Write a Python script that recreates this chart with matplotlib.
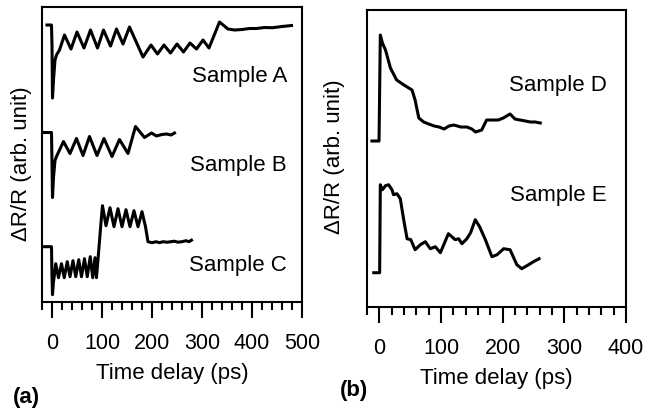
import matplotlib
matplotlib.use("Agg")
import matplotlib.pyplot as plt
from matplotlib.ticker import MultipleLocator

plt.rcParams['font.family'] = ['Liberation Sans', 'DejaVu Sans']

# panel (a): time (ps) and signal (arb. unit, relative to pre-zero level)
t_a = [-10, -1, 0, 1, 3, 6, 9, 15, 25, 38, 50, 64, 77, 91, 103, 117, 129, 142, 155,
       182, 198, 211, 224, 237, 250, 263, 276, 289, 302, 314, 335, 352, 365, 380,
       395, 409, 425, 441, 460, 479]
s_a = [0, 0, -20, -73, -55, -35, -30, -25, -10, -24, -7, -23, -5, -23, -5, -21, -4, -19,
       -2, -32, -20, -29, -20, -28, -19, -27, -18, -24, -15, -23, 3, -4, -5, -4.5,
       -3.5, -3.5, -2.5, -2.7, -1.5, -0.5]

t_b = [-20, -1, 0, 1, 3, 6, 9, 23, 36, 49, 62, 75, 90, 104, 120, 135, 152, 167,
       185, 199, 209, 220, 229, 238, 245]
s_b = [0, 0, -30, -65, -45, -28, -24, -9, -21, -6, -23, -4, -23, -6, -24, -7, -21, 6,
       -5, -0.5, -3.5, -2, -1.5, -2.5, -0.5]

t_c = [-20, -1, 0, 1, 3, 5, 7.5, 13, 19, 24.5, 30.5, 36, 42, 47.5, 53.5, 59, 65,
       70.5, 76.5, 81.5, 86, 89, 99, 101, 108, 116, 124, 132, 140, 148, 156, 164,
       172, 180, 187, 192, 200, 208, 215, 222, 230, 238, 245, 252, 260, 268, 274, 279]
s_c = [0, 0, -30, -48, -35, -28, -17, -31, -17, -31, -15, -30, -14, -30, -13, -30,
       -12, -30, -10, -31, -11, -31, 30, 41, 21, 39, 20, 38, 20, 37, 20, 36, 20, 35,
       20, 5, 4, 5, 4, 5, 4.5, 5, 5.5, 4.5, 5, 6, 5, 6.5]

# panel (b)
t_d = [-12, -0.5, 1.6, 5, 10, 18, 28, 40, 53, 58, 64, 72, 80, 89, 97, 105, 113,
       121, 132, 142, 150, 156, 166, 174, 185, 193, 201, 212, 220, 228, 237, 245,
       253, 261]
s_d = [0, 0, 106, 98, 91, 73, 61, 56, 51, 41, 23, 19, 17, 15, 14, 12, 15, 16, 14,
       14, 12, 9, 11, 21, 21, 21, 23, 27, 22, 21, 20, 19, 19, 18]

t_e = [-9, 0.5, 1.6, 5, 10, 15, 20.5, 23, 28.6, 34, 39.5, 45, 51, 58, 66.5, 74.6,
       82.6, 90.8, 99, 112, 123, 128.6, 134, 142, 148, 155.6, 162.6, 172, 182.6,
       191, 201.6, 212, 223, 231, 242, 250, 259]
s_e = [0, 0, 88, 83, 87, 88, 83, 78, 79, 74, 53, 34, 33, 23, 28, 31, 24, 26, 20,
       39, 33, 34, 29, 34, 40, 53, 46, 33, 16, 18, 24, 23, 8, 4, 8, 11, 14]

offsets_a = {'Sample A': 277, 'Sample B': 169.5, 'Sample C': 55.3}
offsets_b = {'Sample D': 166, 'Sample E': 34.3}

fig = plt.figure(figsize=(6.45, 4.15), dpi=100)
ax1 = fig.add_axes([0.0651, 0.2723, 0.4031, 0.7108])
ax2 = fig.add_axes([0.5690, 0.2602, 0.4015, 0.7157])

lw = 2.2
ax1.plot(t_a, [v + offsets_a['Sample A'] for v in s_a], color='black', lw=lw)
ax1.plot(t_b, [v + offsets_a['Sample B'] for v in s_b], color='black', lw=lw)
ax1.plot(t_c, [v + offsets_a['Sample C'] for v in s_c], color='black', lw=lw)
ax2.plot(t_d, [v + offsets_b['Sample D'] for v in s_d], color='black', lw=lw)
ax2.plot(t_e, [v + offsets_b['Sample E'] for v in s_e], color='black', lw=lw)

ax1.set_xlim(-20, 500)
ax1.set_ylim(0, 295)
ax2.set_xlim(-20, 400)
ax2.set_ylim(0, 297)

for ax in (ax1, ax2):
    ax.xaxis.set_major_locator(MultipleLocator(100))
    ax.xaxis.set_minor_locator(MultipleLocator(20))
    ax.set_yticks([])
    for sp in ax.spines.values():
        sp.set_linewidth(1.5)
    ax.tick_params(axis='x', which='major', direction='out', length=11.5, width=1.5,
                   labelsize=15.5, pad=11)
    ax.tick_params(axis='x', which='minor', direction='out', length=6, width=1.5)
    ax.set_xlabel('Time delay (ps)', fontsize=16, labelpad=6)
    ax.set_ylabel('ΔR/R (arb. unit)', fontsize=16)

ax1.yaxis.set_label_coords(-0.04, 0.47)
ax2.yaxis.set_label_coords(-0.085, 0.505)

ax1.text(0.942, 0.763, 'Sample A', transform=ax1.transAxes, ha='right', va='center', fontsize=16)
ax1.text(0.942, 0.464, 'Sample B', transform=ax1.transAxes, ha='right', va='center', fontsize=16)
ax1.text(0.942, 0.125, 'Sample C', transform=ax1.transAxes, ha='right', va='center', fontsize=16)
ax2.text(0.927, 0.747, 'Sample D', transform=ax2.transAxes, ha='right', va='center', fontsize=16)
ax2.text(0.927, 0.377, 'Sample E', transform=ax2.transAxes, ha='right', va='center', fontsize=16)

fig.text(0.02, 0.041, '(a)', fontsize=16, fontweight='bold', va='center')
fig.text(0.527, 0.060, '(b)', fontsize=16, fontweight='bold', va='center')

fig.savefig('out.png', dpi=100)
